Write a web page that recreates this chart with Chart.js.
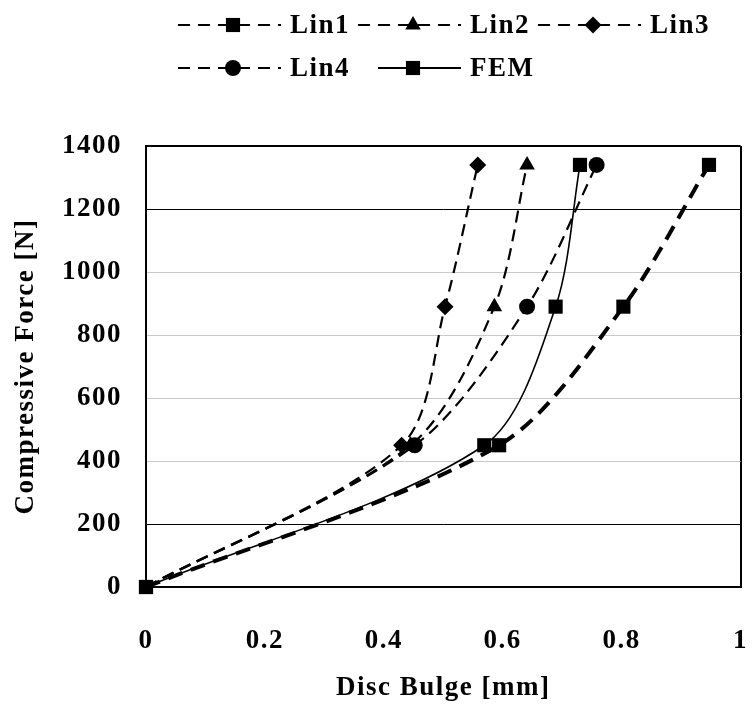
<!DOCTYPE html>
<html lang="en">
<head>
  <meta charset="UTF-8" />
  <title>Compressive Force vs Disc Bulge</title>
  <script src="https://cdn.jsdelivr.net/npm/chart.js"></script>
  <style>
    html, body {
      margin: 0;
      padding: 0;
      background: #fff;
    }
    #wrap {
      width: 752px;
      height: 706px;
    }
  </style>
</head>
<body>
  <div id="wrap">
    <canvas id="bulgeChart" width="752" height="706"></canvas>
  </div>

  <script>
    // force levels shared by every series [N]
    const forceLevels = [0, 450, 890, 1340];

    // disc bulge [mm] per series
    const lin1X = [0, 0.594, 0.803, 0.947];
    const lin2X = [0, 0.445, 0.586, 0.641];
    const lin3X = [0, 0.430, 0.503, 0.558];
    const lin4X = [0, 0.452, 0.641, 0.758];
    const femX  = [0, 0.569, 0.689, 0.730];

    const seriesNames = ["Lin1", "Lin2", "Lin3", "Lin4", "FEM"];

    const xTicks = [0, 0.2, 0.4, 0.6, 0.8, 1];
    const yTicks = [0, 200, 400, 600, 800, 1000, 1200, 1400];

    const serif = "'Liberation Serif', 'Times New Roman', serif";

    function toPoints(xs) {
      return xs.map((x, i) => ({ x: x, y: forceLevels[i] }));
    }

    // draws a marker with the same geometry Chart.js uses
    function drawMarker(ctx, style, r, x, y) {
      ctx.beginPath();
      if (style === "rect") {
        const s = Math.SQRT1_2 * r;
        ctx.rect(x - s, y - s, 2 * s, 2 * s);
      } else if (style === "triangle") {
        ctx.moveTo(x, y - r);
        ctx.lineTo(x + r * 0.866, y + r * 0.5);
        ctx.lineTo(x - r * 0.866, y + r * 0.5);
        ctx.closePath();
      } else if (style === "rectRot") {
        ctx.moveTo(x, y - r);
        ctx.lineTo(x + r, y);
        ctx.lineTo(x, y + r);
        ctx.lineTo(x - r, y);
        ctx.closePath();
      } else {
        ctx.arc(x, y, r, 0, Math.PI * 2);
      }
      ctx.fill();
    }

    const legendPlugin = {
      id: "lineLegend",
      afterDraw(chart) {
        const ctx = chart.ctx;
        const textX = [290, 470, 650];
        const rowY = [25, 68];
        const slots = [[0, 0], [1, 0], [2, 0], [0, 1], [1, 1]];
        ctx.save();
        chart.data.datasets.forEach((ds, i) => {
          const tx = textX[slots[i][0]];
          const y = rowY[slots[i][1]];
          ctx.strokeStyle = "#000";
          ctx.fillStyle = "#000";
          ctx.lineWidth = 2;
          const dashed = ds.borderDash && ds.borderDash.length;
          ctx.setLineDash(dashed ? [12, 8] : []);
          ctx.beginPath();
          ctx.moveTo(dashed ? tx - 112 : tx - 92, y);
          ctx.lineTo(tx - 9, y);
          ctx.stroke();
          ctx.setLineDash([]);
          drawMarker(ctx, ds.pointStyle, ds.markerSize, tx - 57, y);
          ctx.font = "bold 27px " + serif;
          ctx.textAlign = "left";
          ctx.textBaseline = "middle";
          ctx.fillText(ds.label, tx, y + 1);
        });
        ctx.restore();
      }
    };

    const spacingPlugin = {
      id: "spacing",
      beforeUpdate(chart) { chart.ctx.letterSpacing = "1.5px"; },
      beforeDraw(chart) { chart.ctx.letterSpacing = "1.5px"; }
    };

    function lineSet(label, xs, style, radius, width, dash, showOrigin) {
      return {
        label: label,
        data: toPoints(xs),
        borderColor: "#000",
        backgroundColor: "#000",
        borderWidth: width,
        borderDash: dash,
        pointStyle: style,
        markerSize: radius,
        pointRadius: c => (c.dataIndex === 0 && !showOrigin ? 0 : radius),
        pointBorderWidth: 0,
        pointBackgroundColor: "#000",
        tension: 0.3,
        clip: false,
        fill: false
      };
    }

    new Chart(document.getElementById("bulgeChart"), {
      type: "line",
      data: {
        datasets: [
          lineSet(seriesNames[0], lin1X, "rect", 10, 4, [15, 9], true),
          lineSet(seriesNames[1], lin2X, "triangle", 9, 2.2, [12, 7], false),
          lineSet(seriesNames[2], lin3X, "rectRot", 8.5, 2.2, [12, 7], false),
          lineSet(seriesNames[3], lin4X, "circle", 8, 2.2, [12, 7], false),
          lineSet(seriesNames[4], femX, "rect", 10, 1.6, [], true)
        ]
      },
      options: {
        responsive: false,
        animation: false,
        devicePixelRatio: 1,
        layout: { padding: { top: 146, right: 7, bottom: 0, left: 0 } },
        plugins: {
          legend: { display: false },
          tooltip: { enabled: false }
        },
        scales: {
          x: {
            type: "linear",
            min: 0,
            max: 1,
            afterFit(scale) { scale.height = 119; },
            afterBuildTicks(scale) { scale.ticks = xTicks.map(v => ({ value: v })); },
            ticks: {
              color: "#000",
              padding: 4,
              font: { family: serif, size: 27, weight: "bold" },
              callback: v => String(Number(v.toFixed(1)))
            },
            grid: {
              drawTicks: true,
              tickLength: 34,
              tickColor: "rgba(0,0,0,0)",
              color: ctx => (ctx.tick && ctx.tick.value === 1 ? "#000" : "rgba(0,0,0,0)"),
              lineWidth: 2
            },
            border: { color: "#000", width: 2 },
            title: {
              display: true,
              text: "Disc Bulge [mm]",
              color: "#000",
              font: { family: serif, size: 27, weight: "bold" },
              padding: { top: 0, bottom: 2 }
            }
          },
          y: {
            min: 0,
            max: 1400,
            afterFit(scale) { scale.width = 146; },
            afterBuildTicks(scale) { scale.ticks = yTicks.map(v => ({ value: v })); },
            ticks: {
              color: "#000",
              padding: 24,
              font: { family: serif, size: 27, weight: "bold" },
              callback: v => String(v)
            },
            grid: {
              drawTicks: false,
              color: ctx => {
                const v = ctx.tick ? ctx.tick.value : 0;
                if (v === 1400 || v === 1200 || v === 200) return "#000";
                return "#c9c9c9";
              },
              lineWidth: ctx => (ctx.tick && ctx.tick.value === 1400 ? 2 : 1)
            },
            border: { color: "#000", width: 2 },
            title: {
              display: true,
              text: "Compressive Force [N]",
              color: "#000",
              font: { family: serif, size: 27, weight: "bold" },
              padding: { top: 10, bottom: 0 }
            }
          }
        }
      },
      plugins: [spacingPlugin, legendPlugin]
    });
  </script>
</body>
</html>
